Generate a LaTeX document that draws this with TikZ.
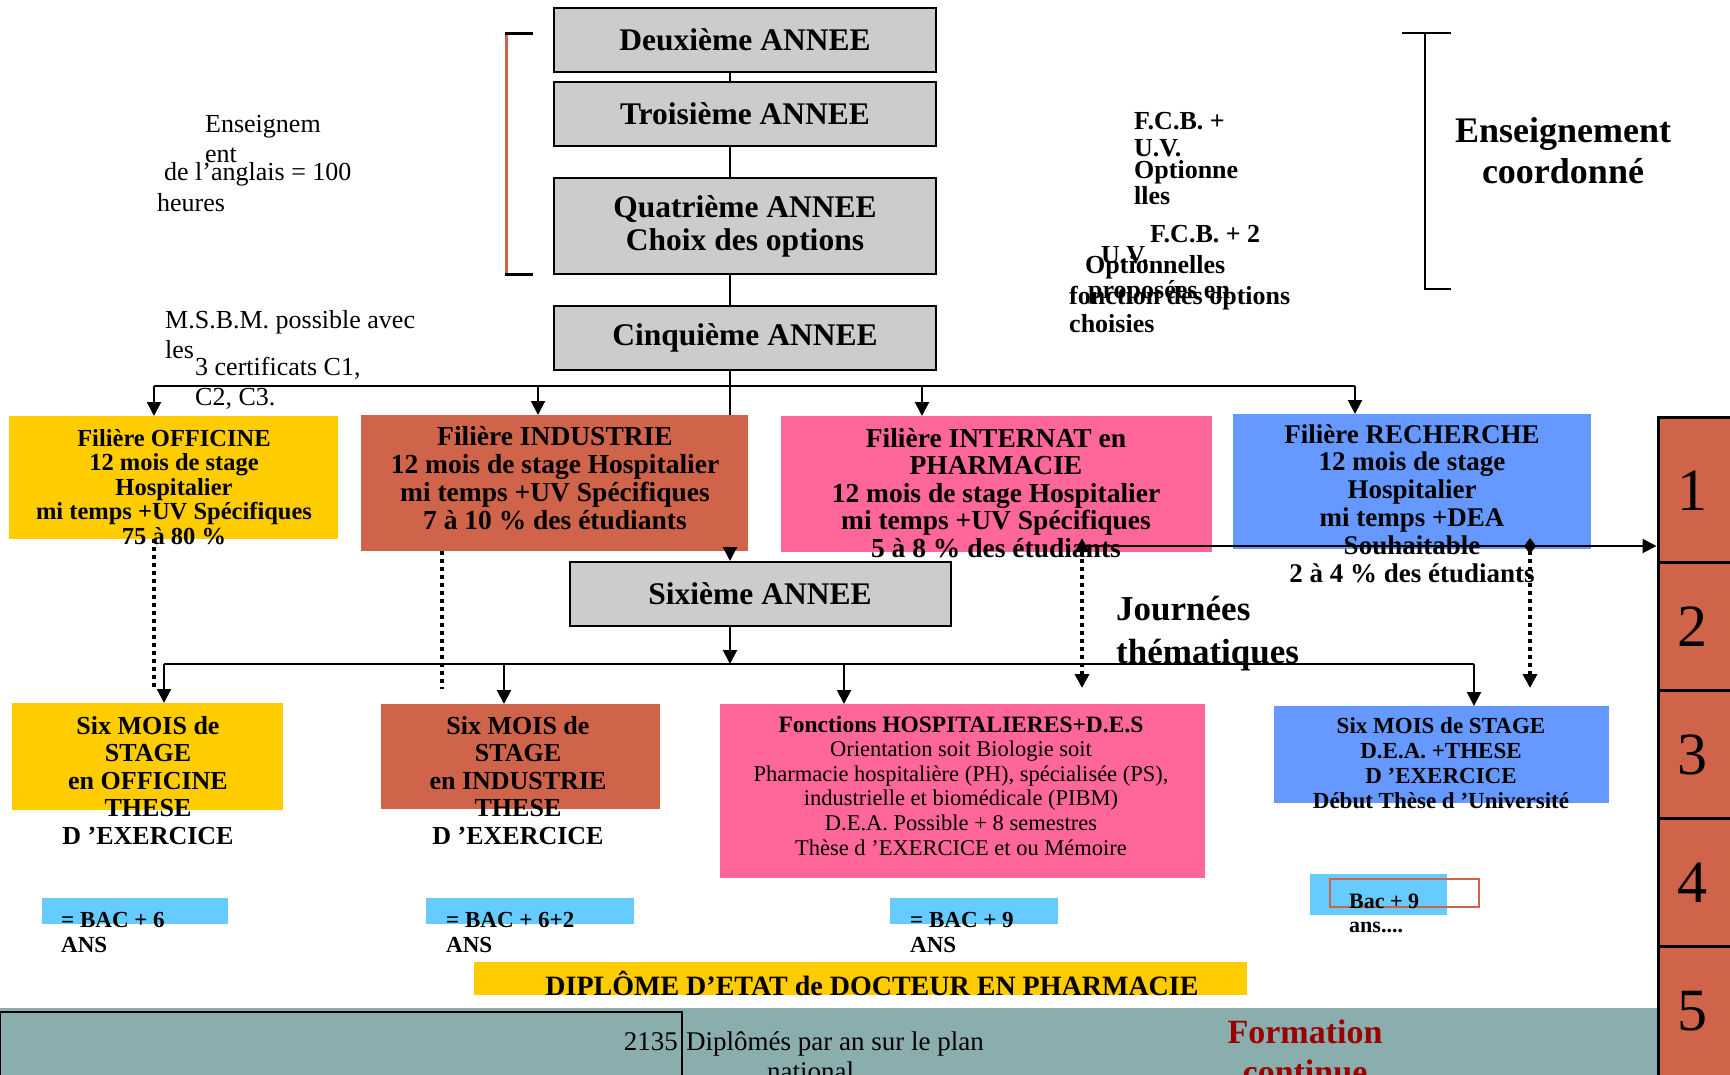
\documentclass[tikz,border=0pt]{standalone}
\usepackage{fontspec}
\setmainfont{Liberation Serif}
\usetikzlibrary{arrows.meta}

\definecolor{grisA}{HTML}{CCCCCC}
\definecolor{jaune}{HTML}{FFCC00}
\definecolor{brique}{HTML}{D0644A}
\definecolor{rose}{HTML}{FF6699}
\definecolor{bleu}{HTML}{6699FF}
\definecolor{ciel}{HTML}{66CCFF}
\definecolor{sarcelle}{HTML}{8AADAD}
\definecolor{bordeaux}{HTML}{990000}

\newcommand{\taille}[2]{\fontsize{#1}{#2}\selectfont}

\begin{document}
\begin{tikzpicture}[x=1pt,y=-1pt,
	annee/.style={draw,line width=2pt,fill=grisA,minimum width=382pt,inner sep=0pt,align=center,font=\bfseries\taille{31.5}{33}},
	bloc/.style={inner sep=0pt,outer sep=0pt},
	texte/.style={inner sep=0pt,align=center,anchor=base},
	gauche/.style={inner sep=0pt,align=left,anchor=base west},
	trait/.style={line width=2pt},
	fleche/.style={line width=2pt,-{Triangle[width=14pt,length=14pt]}},
	pointille/.style={line width=4pt,dash pattern=on 4pt off 4pt},
	case/.style={draw,line width=3pt,fill=brique,minimum width=90pt,inner sep=0pt}]

	\useasboundingbox (0,0) rectangle (1730,1074);

	% les annees
	\node[annee,minimum height=64pt] (deux) at (745,40) {Deuxième ANNEE};
	\node[annee,minimum height=64pt] (trois) at (745,114) {Troisième ANNEE};
	\node[annee,minimum height=96pt] (quatre) at (745,226) {Quatrième ANNEE\\Choix des options};
	\node[annee,minimum height=64pt] (cinq) at (745,338) {Cinquième ANNEE};
	\node[annee,minimum height=64pt,minimum width=381pt] (six) at (760,594) {Sixième ANNEE};

	% les filieres
	\node[bloc,fill=jaune,minimum width=329pt,minimum height=123pt] (offi) at (173.5,477.5) {};
	\node[bloc,fill=brique,minimum width=387pt,minimum height=136pt] (indus) at (554.5,483) {};
	\node[bloc,fill=rose,minimum width=431pt,minimum height=136pt] (inter) at (996.5,484) {};
	\node[bloc,fill=bleu,minimum width=358pt,minimum height=135pt] (rech) at (1412,481.5) {};

	\node[bloc,fill=jaune,minimum width=271pt,minimum height=107pt] (soffi) at (147.5,756.5) {};
	\node[bloc,fill=brique,minimum width=279pt,minimum height=105pt] (sindus) at (520.5,756.5) {};
	\node[bloc,fill=rose,minimum width=485pt,minimum height=174pt] (fonct) at (962.5,791) {};
	\node[bloc,fill=bleu,minimum width=335pt,minimum height=97pt] (srech) at (1441.5,754.5) {};

	\node[bloc,fill=ciel,minimum width=186pt,minimum height=26pt] (bac1) at (135,911) {};
	\node[bloc,fill=ciel,minimum width=208pt,minimum height=26pt] (bac2) at (530,911) {};
	\node[bloc,fill=ciel,minimum width=168pt,minimum height=26pt] (bac3) at (974,911) {};
	\node[bloc,fill=ciel,minimum width=137pt,minimum height=41pt] (bac4) at (1378.5,894.5) {};
	\node[bloc,draw=brique,line width=2pt,minimum width=149pt,minimum height=28pt] (cadre) at (1404.5,893) {};
	\node[bloc,fill=jaune,minimum width=773pt,minimum height=33pt] (dipl) at (860.5,978.5) {};

	% bandeau du bas et colonne
	\fill[sarcelle] (0,1008) rectangle (1658,1090);
	\draw[line width=1.5pt] (0,1012) rectangle (682,1095);
	\node[case,minimum height=145pt] (col1) at (1703,489.5) {};
	\node[case,minimum height=128pt] (col2) at (1703,626) {};
	\node[case,minimum height=128pt] (col3) at (1703,754) {};
	\node[case,minimum height=128pt] (col4) at (1703,882) {};
	\node[case,minimum height=140pt] (col5) at (1703,1016) {};

	% crochets
	\draw[line width=3pt,brique] (506,33) -- (506,274);
	\draw[line width=3pt] (505,33) -- (533,33) (505,274) -- (533,274);
	\draw[line width=2pt] (1402,33) -- (1451,33) (1425,33) -- (1425,289) -- (1451,289);

	% liaisons
	\coordinate (spine) at (730,0);
	\draw[trait] (spine |- deux.south) -- (spine |- trois.north)
		(spine |- trois.south) -- (spine |- quatre.north)
		(spine |- quatre.south) -- (spine |- cinq.north)
		(spine |- cinq.south) -- (spine |- indus.north);
	\draw[fleche] (spine |- indus.south) -- (spine |- six.north);

	\coordinate (b1) at (154,386);
	\coordinate (b2) at (538,386);
	\coordinate (b3) at (922,386);
	\coordinate (b4) at (1355,386);
	\draw[trait] (b1) -- (b4);
	\draw[fleche] (b1) -- (b1 |- offi.north);
	\draw[fleche] (b2) -- (b2 |- indus.north);
	\draw[fleche] (b3) -- (b3 |- inter.north);
	\draw[fleche] (b4) -- (b4 |- rech.north);

	\coordinate (c0) at (730,664);
	\coordinate (c1) at (164,664);
	\coordinate (c2) at (504,664);
	\coordinate (c3) at (844,664);
	\coordinate (c4) at (1474,664);
	\draw[fleche] (spine |- six.south) -- (c0);
	\draw[trait] (c1) -- (c4);
	\draw[fleche] (c1) -- (c1 |- soffi.north);
	\draw[fleche] (c2) -- (c2 |- sindus.north);
	\draw[fleche] (c3) -- (c3 |- fonct.north);
	\draw[fleche] (c4) -- (c4 |- srech.north);

	\coordinate (p1) at (154,688);
	\coordinate (p2) at (442,689);
	\draw[pointille] (p1 |- offi.south) -- (p1);
	\draw[pointille] (p2 |- indus.south) -- (p2);

	\coordinate (q1) at (1082,688);
	\coordinate (q2) at (1530,688);
	\coordinate (h0) at (1082,546);
	\draw[pointille,{Triangle[width=14pt,length=14pt]}-{Triangle[width=14pt,length=14pt]}] (1082,538) -- (q1);
	\draw[fleche] (h0) -- (h0 -| col1.west);
	\draw[pointille,{Diamond[width=12pt,length=16pt]}-{Triangle[width=14pt,length=14pt]}] (1530,538) -- (q2);

	% textes des filieres
	\node[texte,font=\bfseries\taille{24.5}{24.6}] (toffi) at (174,544.4) {Filière OFFICINE\\12 mois de stage\\Hospitalier\\mi temps +UV Spécifiques\\75 à 80 \%};
	\node[texte,font=\bfseries\taille{27.5}{27.7}] (tindus) at (555,529) {Filière INDUSTRIE\\12 mois de stage Hospitalier\\mi temps +UV Spécifiques\\7 à 10 \% des étudiants};
	\node[texte,font=\bfseries\taille{27.5}{27.5}] (tinter) at (996,557) {Filière INTERNAT en\\PHARMACIE\\12 mois de stage Hospitalier\\mi temps +UV Spécifiques\\5 à 8 \% des étudiants};
	\node[texte,font=\bfseries\taille{27}{27.8}] (trech) at (1412,582) {Filière RECHERCHE\\12 mois de stage\\Hospitalier\\mi temps +DEA\\Souhaitable\\2 à 4 \% des étudiants};

	\node[texte,font=\bfseries\taille{26}{27.5}] (tsoffi) at (148,844) {Six MOIS de\\STAGE\\en OFFICINE\\THESE\\D ’EXERCICE};
	\node[texte,font=\bfseries\taille{26}{27.5}] (tsindus) at (518,844) {Six MOIS de\\STAGE\\en INDUSTRIE\\THESE\\D ’EXERCICE};
	\node[texte,font=\taille{22.5}{24.6}] (tfonct) at (961,855) {{\bfseries\taille{23.5}{24.6}Fonctions HOSPITALIERES+D.E.S}\\Orientation soit Biologie soit\\Pharmacie hospitalière (PH), spécialisée (PS),\\industrielle et biomédicale (PIBM)\\D.E.A. Possible + 8 semestres\\Thèse d ’EXERCICE et ou Mémoire};
	\node[texte,font=\bfseries\taille{23}{24.7}] (tsrech) at (1441,808) {Six MOIS de STAGE\\D.E.A. +THESE\\D ’EXERCICE\\Début Thèse d ’Université};

	\node[gauche,font=\bfseries\taille{23}{25}] (tbac1) at (61,952) {= BAC + 6\\ANS};
	\node[gauche,font=\bfseries\taille{23}{25}] (tbac2) at (446,952) {= BAC + 6+2\\ANS};
	\node[gauche,font=\bfseries\taille{23}{25}] (tbac3) at (910,952) {= BAC + 9\\ANS};
	\node[gauche,font=\bfseries\taille{22}{24}] (tbac4) at (1349,932) {Bac + 9\\ans....};
	\node[texte,font=\bfseries\taille{28}{30}] (tdipl) at (872,995) {DIPLÔME D'ETAT de DOCTEUR EN PHARMACIE};

	\node[inner sep=0pt,anchor=base east,font=\taille{27}{30}] (nb) at (678,1050) {2135};
	\node[gauche,font=\taille{27}{30}] (dipl1) at (686,1050) {Diplômés par an sur le plan};
	\node[gauche,font=\taille{27}{30}] (dipl2) at (767,1080) {national};
	\node[texte,font=\bfseries\taille{34}{40},text=bordeaux] (forma) at (1305,1083) {Formation\\continue};

	\node[texte,font=\taille{60}{66}] (n1) at (1692,510) {1};
	\node[texte,font=\taille{60}{66}] (n2) at (1692,646) {2};
	\node[texte,font=\taille{60}{66}] (n3) at (1692,774) {3};
	\node[texte,font=\taille{60}{66}] (n4) at (1692,902) {4};
	\node[texte,font=\taille{60}{66}] (n5) at (1692,1030) {5};

	% textes libres
	\node[gauche,font=\taille{26}{30}] (ens1) at (205,162) {Enseignem\\ent};
	\node[gauche,font=\taille{26}{31}] (ens2) at (157,211) {\hspace*{7pt}de l'anglais = 100\\heures};
	\node[gauche,font=\taille{26}{30}] (msbm) at (165,358) {M.S.B.M. possible avec\\les};
	\node[gauche,font=\taille{26}{30}] (certif) at (195,405) {3 certificats C1,\\C2, C3.};

	\node[gauche,font=\bfseries\taille{26}{27}] (fcb1) at (1134,156) {F.C.B. +\\U.V.};
	\node[gauche,font=\bfseries\taille{26}{26}] (fcb2) at (1134,204) {Optionne\\lles};
	\node[gauche,font=\bfseries\taille{26}{27}] (fcb3) at (1150,242) {F.C.B. + 2};
	\node[gauche,font=\bfseries\taille{26}{27}] (uv) at (1101,263) {U.V.};
	\node[gauche,font=\bfseries\taille{26}{27}] (optio) at (1085,273) {Optionnelles};
	\node[gauche,font=\bfseries\taille{26}{27}] (propo) at (1088,298) {proposées en};
	\node[gauche,font=\bfseries\taille{26}{28}] (foncopt) at (1069,332) {fonction des options\\choisies};

	\node[texte,font=\bfseries\taille{36}{41}] (ensco) at (1563,183) {Enseignement\\coordonné};
	\node[gauche,font=\bfseries\taille{35}{43}] (journees) at (1116,663) {Journées\\thématiques};
\end{tikzpicture}
\end{document}
